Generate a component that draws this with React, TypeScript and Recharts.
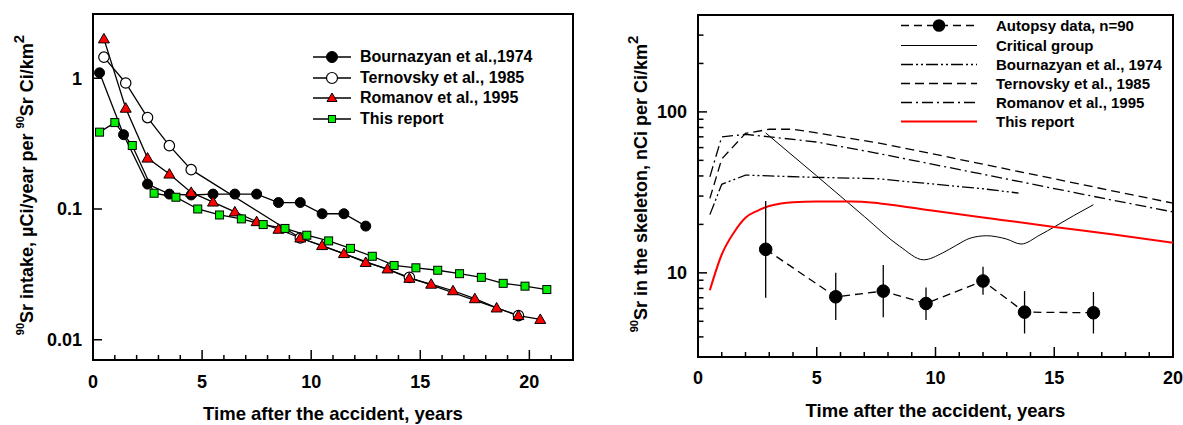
import { LineChart, Line, XAxis, YAxis, ReferenceArea, Legend, ErrorBar } from 'recharts';

// ---- left panel: 90Sr intake (log) vs time after the accident ----
const bournazyanYears = [0.3, 1.4, 2.5, 3.5, 4.5, 5.5, 6.5, 7.5, 8.5, 9.5, 10.5, 11.5, 12.5];
const bournazyanIntake = [1.1, 0.37, 0.155, 0.13, 0.128, 0.13, 0.13, 0.13, 0.112, 0.112, 0.092, 0.092, 0.074];

const ternovskyYears = [0.5, 1.5, 2.5, 3.5, 4.5, 9.5, 14.5, 19.5];
const ternovskyIntake = [1.45, 0.92, 0.5, 0.305, 0.2, 0.06, 0.03, 0.0153];

const romanovYears = [0.5, 1.5, 2.5, 3.5, 4.5, 5.5, 6.5, 7.5, 8.5, 9.5, 10.5, 11.5, 12.5, 13.5, 14.5, 15.5, 16.5, 17.5, 18.5, 19.5, 20.5];
const romanovIntake = [2.0, 0.59, 0.245, 0.185, 0.134, 0.113, 0.095, 0.08, 0.07, 0.06, 0.0525, 0.0456, 0.039, 0.0348, 0.0295, 0.0266, 0.0237, 0.0206, 0.0175, 0.0153, 0.0143];

const reportYears = [0.3, 1.0, 1.8, 2.8, 3.8, 4.8, 5.8, 6.8, 7.8, 8.8, 9.8, 10.8, 11.8, 12.8, 13.8, 14.8, 15.8, 16.8, 17.8, 18.8, 19.8, 20.8];
const reportIntake = [0.387, 0.458, 0.306, 0.132, 0.123, 0.1, 0.09, 0.084, 0.076, 0.071, 0.063, 0.057, 0.05, 0.0435, 0.037, 0.0355, 0.034, 0.032, 0.03, 0.027, 0.0257, 0.0242];

const leftXTicks = [0, 1, 2, 3, 4, 5, 6, 7, 8, 9, 10, 11, 12, 13, 14, 15, 16, 17, 18, 19, 20, 21, 22];
const leftYTicks = [0.01, 0.1, 1];
const leftLegend = ['Bournazyan et al.,1974', 'Ternovsky et al., 1985', 'Romanov et al., 1995', 'This report'];

// ---- right panel: 90Sr in the skeleton (log) vs time ----
const autopsyYears = [2.85, 5.8, 7.8, 9.6, 12.0, 13.75, 16.65];
const autopsyMean = [14, 7.1, 7.7, 6.45, 8.9, 5.7, 5.65];
const autopsyLow = [7, 5.1, 5.3, 5.1, 7.3, 4.2, 4.2];
const autopsyHigh = [28, 10, 11.2, 8.1, 10.9, 7.7, 7.6];

const criticalYears = [2.85, 5, 7, 8.5, 9.5, 10.3, 10.9, 11.45, 12.15, 13, 13.6, 14.4, 15.03, 15.8, 16.65];
const criticalSkeleton = [74, 40, 22.4, 14.6, 12.05, 13.3, 14.9, 16.4, 17, 16.2, 15.1, 17.2, 19.4, 22.6, 26.5];

const bournazyanModelYears = [0.5, 1, 2, 3, 5, 7.5, 10, 12, 13.5];
const bournazyanModel = [23, 35.5, 40.5, 40, 39.2, 38.5, 35.5, 33.3, 31.3];

const ternovskyModelYears = [0.5, 1, 2, 3, 4, 5, 7.5, 10, 12.5, 15, 17.5, 20];
const ternovskyModel = [29, 51, 73.5, 78, 78, 74, 64.5, 54.4, 45.7, 38.4, 32.2, 27.1];

const romanovModelYears = [0.5, 1, 2, 3, 5, 7.5, 10, 12.5, 15, 17.5, 20];
const romanovModel = [39.5, 70, 72.5, 70, 65, 55.5, 46.9, 39.6, 33.4, 28.2, 23.9];

const reportModelYears = [0.5, 1, 1.5, 2, 2.5, 3, 3.5, 4, 5, 6.5, 7.66, 10, 12.5, 15, 17.5, 20];
const reportModel = [7.8, 13, 17.7, 22, 24.3, 26, 27, 27.5, 27.8, 27.8, 27, 24.2, 21.6, 19.3, 17.3, 15.4];

const rightXTicks = [0, 1, 2, 3, 4, 5, 6, 7, 8, 9, 10, 11, 12, 13, 14, 15, 16, 17, 18, 19, 20];
const rightYTicks = [4, 5, 6, 7, 8, 9, 10, 20, 30, 40, 50, 60, 70, 80, 90, 100, 200, 300];
const rightYLabels = [10, 100];
const xLabels = [0, 5, 10, 15, 20];
const rightLegend = ['Autopsy data, n=90', 'Critical group', 'Bournazyan et al., 1974', 'Ternovsky et al., 1985', 'Romanov et al., 1995', 'This report'];

const FONT = "'Liberation Sans', Arial, Helvetica, sans-serif";

const toPoints = (xs: number[], ys: number[]) => xs.map((x, i) => ({ x, y: ys[i] }));

const autopsyData = autopsyYears.map((x, i) => ({
  x,
  y: autopsyMean[i],
  err: [autopsyMean[i] - autopsyLow[i], autopsyHigh[i] - autopsyMean[i]],
}));

// markers
const TriangleDot = (props: any) => {
  const { cx, cy, index } = props;
  if (cx == null || cy == null) return null;
  return (
    <polygon
      key={`tri-${index}`}
      points={`${cx},${cy - 5.5} ${cx + 5.5},${cy + 4} ${cx - 5.5},${cy + 4}`}
      fill="#ff0000"
      stroke="#000"
      strokeWidth={1}
    />
  );
};

const SquareDot = (props: any) => {
  const { cx, cy, index } = props;
  if (cx == null || cy == null) return null;
  return <rect key={`sq-${index}`} x={cx - 4} y={cy - 4} width={8} height={8} fill="#00ee00" stroke="#000" strokeWidth={1} />;
};

// inward ticks, labels only on major values
const makeXTick = (majors: number[], offset: number) => (props: any) => {
  const { x, y, payload } = props;
  const major = majors.includes(payload.value);
  return (
    <g>
      <line x1={x} y1={y} x2={x} y2={y - (major ? 10 : 5)} stroke="#000" strokeWidth={1.5} />
      {major && (
        <text x={x} y={y + offset} textAnchor="middle" fontFamily={FONT} fontWeight="bold" fontSize={18} fill="#000">
          {payload.value}
        </text>
      )}
    </g>
  );
};

const makeYTick = (majors: number[]) => (props: any) => {
  const { x, y, payload } = props;
  const major = majors.includes(payload.value);
  return (
    <g>
      <line x1={x} y1={y} x2={x + (major ? 9 : 5.5)} y2={y} stroke="#000" strokeWidth={1.5} />
      {major && (
        <text x={x - 11} y={y} dy="0.36em" textAnchor="end" fontFamily={FONT} fontWeight="bold" fontSize={18} fill="#000">
          {payload.value}
        </text>
      )}
    </g>
  );
};

const XTitle = (props: any) => {
  const vb = props.viewBox;
  return (
    <text x={vb.x + vb.width / 2} y={vb.y + 60} textAnchor="middle" fontFamily={FONT} fontWeight="bold" fontSize={18.5} fill="#000">
      Time after the accident, years
    </text>
  );
};

const makeYTitle = (baseX: number, text: string) => (props: any) => {
  const vb = props.viewBox;
  const cx = vb.x + baseX;
  const cy = vb.y + vb.height / 2 - 2;
  return (
    <text x={cx} y={cy} transform={`rotate(-90, ${cx}, ${cy})`} textAnchor="middle" fontFamily={FONT} fontWeight="bold" fontSize={18} fill="#000">
      <tspan fontSize={11} dy={-9}>90</tspan>
      <tspan dy={9}>{text}</tspan>
      <tspan fontSize={15} dy={-9}>2</tspan>
    </text>
  );
};

const leftYTitle = (props: any) => {
  const vb = props.viewBox;
  const cx = vb.x + 33;
  const cy = vb.y + vb.height / 2 - 2;
  return (
    <text x={cx} y={cy} transform={`rotate(-90, ${cx}, ${cy})`} textAnchor="middle" fontFamily={FONT} fontWeight="bold" fontSize={18} fill="#000">
      <tspan fontSize={11} dy={-9}>90</tspan>
      <tspan dy={9}>Sr intake, µCi/year per </tspan>
      <tspan fontSize={11} dy={-9}>90</tspan>
      <tspan dy={9}>Sr Ci/km</tspan>
      <tspan fontSize={15} dy={-9}>2</tspan>
    </text>
  );
};

const LeftLegend = () => {
  const icons = [
    <circle cx={19} cy={10} r={5.5} fill="#000" stroke="#000" />,
    <circle cx={19} cy={10} r={5.5} fill="#fff" stroke="#000" strokeWidth={1.2} />,
    <polygon points="19,5 24,13.5 14,13.5" fill="#ff0000" stroke="#000" strokeWidth={1} />,
    <rect x={15.5} y={6.5} width={7} height={7} fill="#00ee00" stroke="#000" strokeWidth={1} />,
  ];
  return (
    <div style={{ fontFamily: FONT, fontWeight: 'bold', fontSize: 16, color: '#000' }}>
      {leftLegend.map((name, i) => (
        <div key={name} style={{ display: 'flex', alignItems: 'center', height: 20.5 }}>
          <svg width={38} height={20} style={{ display: 'block' }}>
            <line x1={0} y1={10} x2={38} y2={10} stroke="#000" strokeWidth={1.5} />
            {icons[i]}
          </svg>
          <span style={{ marginLeft: 9, whiteSpace: 'nowrap' }}>{name}</span>
        </div>
      ))}
    </div>
  );
};

const rightDashes = ['8 5', undefined, '12 3 2 3 2 3', '9 5', '11 4 2 4', undefined];
const rightColors = ['#000', '#000', '#000', '#000', '#000', '#ff0000'];
const rightWidths = [1.3, 1, 1.3, 1.3, 1.3, 2];

const RightLegend = () => (
  <div style={{ fontFamily: FONT, fontWeight: 'bold', fontSize: 15, color: '#000' }}>
    {rightLegend.map((name, i) => (
      <div key={name} style={{ display: 'flex', alignItems: 'center', height: 19.2 }}>
        <svg width={76} height={19} style={{ display: 'block' }}>
          <line x1={0} y1={9.5} x2={76} y2={9.5} stroke={rightColors[i]} strokeWidth={rightWidths[i]} strokeDasharray={rightDashes[i]} />
          {i === 0 && <circle cx={38} cy={9.5} r={6.3} fill="#000" />}
        </svg>
        <span style={{ marginLeft: 19, whiteSpace: 'nowrap' }}>{name}</span>
      </div>
    ))}
  </div>
);

function IntakeChart() {
  return (
    <LineChart width={600} height={425} margin={{ top: 14, right: 27, bottom: 0, left: 0 }}>
      <XAxis
        type="number"
        dataKey="x"
        domain={[0, 22]}
        ticks={leftXTicks}
        interval={0}
        allowDataOverflow
        tickSize={0}
        tickMargin={0}
        tickLine={false}
        height={65}
        axisLine={{ stroke: '#000', strokeWidth: 2 }}
        tick={makeXTick(xLabels, 28)}
        label={XTitle}
      />
      <YAxis
        type="number"
        dataKey="y"
        scale="log"
        domain={[0.007, 3.1]}
        ticks={leftYTicks}
        interval={0}
        allowDataOverflow
        tickSize={0}
        tickMargin={0}
        tickLine={false}
        width={93}
        axisLine={{ stroke: '#000', strokeWidth: 2 }}
        tick={makeYTick(leftYTicks)}
        label={leftYTitle}
      />
      <ReferenceArea x1={0} x2={22} y1={0.007} y2={3.1} fill="none" stroke="#000" strokeWidth={2} />
      <Legend layout="vertical" align="center" verticalAlign="middle" wrapperStyle={{ left: 313, top: 47, width: 260, height: 'auto' }} content={() => <LeftLegend />} />
      <Line data={toPoints(bournazyanYears, bournazyanIntake)} dataKey="y" stroke="#000" strokeWidth={1.3} dot={{ r: 5, fill: '#000', stroke: '#000', strokeWidth: 1 }} isAnimationActive={false} legendType="none" />
      <Line data={toPoints(ternovskyYears, ternovskyIntake)} dataKey="y" stroke="#000" strokeWidth={1.3} dot={{ r: 5.2, fill: '#fff', stroke: '#000', strokeWidth: 1.2 }} isAnimationActive={false} legendType="none" />
      <Line data={toPoints(romanovYears, romanovIntake)} dataKey="y" stroke="#000" strokeWidth={1.3} dot={TriangleDot} isAnimationActive={false} legendType="none" />
      <Line data={toPoints(reportYears, reportIntake)} dataKey="y" stroke="#000" strokeWidth={1.3} dot={SquareDot} isAnimationActive={false} legendType="none" />
    </LineChart>
  );
}

function SkeletonChart() {
  return (
    <LineChart width={583} height={425} margin={{ top: 15, right: 10, bottom: 0, left: 0 }}>
      <XAxis
        type="number"
        dataKey="x"
        domain={[0, 20]}
        ticks={rightXTicks}
        interval={0}
        allowDataOverflow
        tickSize={0}
        tickMargin={0}
        tickLine={false}
        height={68}
        axisLine={{ stroke: '#000', strokeWidth: 2 }}
        tick={makeXTick(xLabels, 27)}
        label={XTitle}
      />
      <YAxis
        type="number"
        dataKey="y"
        scale="log"
        domain={[3, 400]}
        ticks={rightYTicks}
        interval={0}
        allowDataOverflow
        tickSize={0}
        tickMargin={0}
        tickLine={false}
        width={98}
        axisLine={{ stroke: '#000', strokeWidth: 2 }}
        tick={makeYTick(rightYLabels)}
        label={makeYTitle(47, 'Sr in the skeleton, nCi per Ci/km')}
      />
      <ReferenceArea x1={0} x2={20} y1={3} y2={400} fill="none" stroke="#000" strokeWidth={2} />
      <Legend layout="vertical" align="center" verticalAlign="middle" wrapperStyle={{ left: 301, top: 16.4, width: 280, height: 'auto' }} content={() => <RightLegend />} />
      <Line data={toPoints(bournazyanModelYears, bournazyanModel)} dataKey="y" type="linear" stroke="#000" strokeWidth={1.3} strokeDasharray={rightDashes[2]} dot={false} isAnimationActive={false} legendType="none" />
      <Line data={toPoints(ternovskyModelYears, ternovskyModel)} dataKey="y" type="linear" stroke="#000" strokeWidth={1.3} strokeDasharray={rightDashes[3]} dot={false} isAnimationActive={false} legendType="none" />
      <Line data={toPoints(romanovModelYears, romanovModel)} dataKey="y" type="linear" stroke="#000" strokeWidth={1.3} strokeDasharray={rightDashes[4]} dot={false} isAnimationActive={false} legendType="none" />
      <Line data={toPoints(criticalYears, criticalSkeleton)} dataKey="y" type="monotone" stroke="#000" strokeWidth={1} dot={false} isAnimationActive={false} legendType="none" />
      <Line data={toPoints(reportModelYears, reportModel)} dataKey="y" type="monotone" stroke="#ff0000" strokeWidth={2} dot={false} isAnimationActive={false} legendType="none" />
      <Line data={autopsyData} dataKey="y" type="linear" stroke="#000" strokeWidth={1.3} strokeDasharray={rightDashes[0]} dot={{ r: 6.3, fill: '#000', stroke: '#000', strokeWidth: 1, strokeDasharray: 'none' }} isAnimationActive={false} legendType="none">
        <ErrorBar dataKey="err" direction="y" width={0} stroke="#000" strokeWidth={1.3} isAnimationActive={false} />
      </Line>
    </LineChart>
  );
}

export default function App() {
  return (
    <div style={{ position: 'absolute', left: 0, top: 0, width: 1183, height: 425, background: '#fff' }}>
      <div style={{ position: 'absolute', left: 0, top: 0 }}>
        <IntakeChart />
      </div>
      <div style={{ position: 'absolute', left: 600, top: 0 }}>
        <SkeletonChart />
      </div>
    </div>
  );
}
